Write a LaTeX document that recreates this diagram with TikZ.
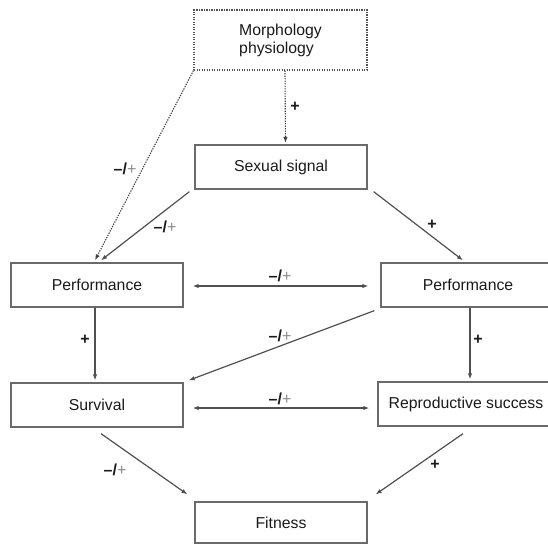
\documentclass[tikz,border=0pt]{standalone}
\usepackage{fontspec}
\setmainfont{Liberation Sans}
\usetikzlibrary{arrows.meta,calc}
\definecolor{linegray}{HTML}{505050}
\definecolor{boxgray}{HTML}{6A6A6A}
\definecolor{textgray}{HTML}{1A1A1A}
\definecolor{plusgray}{HTML}{8A8A8A}
\tikzset{
  box/.style={draw=boxgray, line width=1.3pt, minimum height=44pt, minimum width=172pt,
    inner sep=0pt, text=textgray, font=\fontsize{15.8}{18}\selectfont},
  dotbox/.style={box, draw=linegray, dash pattern=on 1.3pt off 1.2pt, line width=1.1pt},
  conn/.style={draw=linegray, line width=1.2pt, -{Latex[length=6pt,width=4.5pt]}},
  biconn/.style={draw=linegray, line width=1.2pt, {Latex[length=6pt,width=4.5pt]}-{Latex[length=6pt,width=4.5pt]}},
  dotconn/.style={conn, draw=linegray!80!black, dash pattern=on 1.3pt off 1.2pt, line width=1.1pt},
  lbl/.style={inner sep=0pt, font=\fontsize{16}{18}\selectfont, text=textgray},
}
\newcommand{\mplbl}{\textbf{–/}\textcolor{plusgray}{+}}
\newcommand{\pllbl}{\textbf{+}}
\begin{document}
\begin{tikzpicture}[x=1pt,y=-1pt]
\useasboundingbox (0,0) rectangle (548,544);
\node[dotbox, minimum height=60pt, minimum width=173pt, align=left] (morph) at (280.5,40) {Morphology\\physiology};
\node[box] (sexual) at (281,167) {Sexual signal};
\node[box] (perfL) at (97,285) {Performance};
\node[box, minimum width=174pt] (perfR) at (468,285) {Performance};
\node[box] (surv) at (97,405) {Survival};
\node[box, minimum width=176pt] (repro) at (466,404) {Reproductive success};
\node[box, minimum height=41pt] (fit) at (281,522.5) {Fitness};

% connectors
\draw[dotconn] ($(morph.south)+(4.5,0)$) -- ($(sexual.north)+(4.5,-1.5)$);
\draw[dotconn] (morph.south west) -- ($(perfL.north)+(-2,-2)$);
\draw[conn] ($(sexual.south west)+(-5,2)$) -- ($(perfL.north)+(4,-2)$);
\draw[conn] ($(sexual.south east)+(6,2)$) -- ($(perfR.north)+(-5,-2)$);
\draw[biconn] ($(perfL.east)+(9,1)$) -- ($(perfR.west)+(-12,1)$);
\draw[conn] ($(perfL.south)+(-2,0)$) -- ($(surv.north)+(-2,-2)$);
\draw[conn] ($(perfR.south)+(2,0)$) -- ($(repro.north)+(4,-2)$);
\draw[conn] ($(perfR.south west)+(-6,3)$) -- ($(surv.north east)+(5,-2)$);
\draw[biconn] ($(surv.east)+(9,3)$) -- ($(repro.west)+(-8,4)$);
\draw[conn] ($(surv.south)+(4,6)$) -- ($(fit.north west)+(-7,-7)$);
\draw[conn] ($(repro.south)+(-3,7)$) -- ($(fit.north east)+(8,-7)$);

% labels
\node[lbl] (l1) at (295,107) {\pllbl};
\node[lbl] (l2) at (125,169) {\mplbl};
\node[lbl] (l3) at (165,227) {\mplbl};
\node[lbl] (l4) at (432,225) {\pllbl};
\node[lbl] (l5) at (280,276) {\mplbl};
\node[lbl] (l6) at (85,340) {\pllbl};
\node[lbl] (l7) at (478,340) {\pllbl};
\node[lbl] (l8) at (280,336) {\mplbl};
\node[lbl] (l9) at (280,399) {\mplbl};
\node[lbl] (l10) at (115,470) {\mplbl};
\node[lbl] (l11) at (435,465) {\pllbl};
\end{tikzpicture}
\end{document}
